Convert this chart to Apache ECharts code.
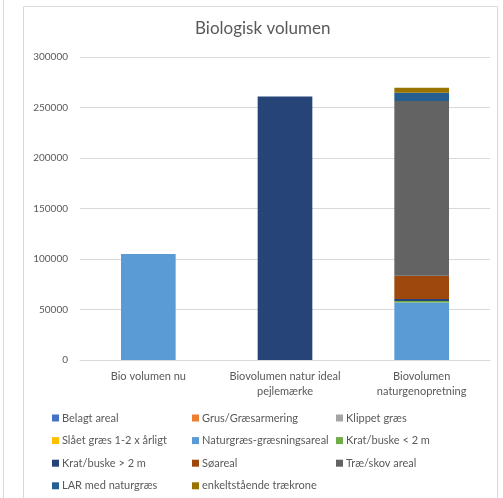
<!DOCTYPE html>
<html><head><meta charset="utf-8">
<script src="https://cdn.jsdelivr.net/npm/echarts@6/dist/echarts.min.js"></script>
<style>html,body{margin:0;padding:0;background:#fff}#c{width:503px;height:498px}</style>
</head><body><div id="c"></div>
<script>
const categories = ["Bio volumen nu", "Biovolumen natur ideal\npejlemærke", "Biovolumen\nnaturgenopretning"];
const seriesNames = ["Belagt areal","Grus/Græsarmering","Klippet græs","Slået græs 1-2 x årligt","Naturgræs-græsningsareal","Krat/buske < 2 m","Krat/buske > 2 m","Søareal","Træ/skov areal","LAR med naturgræs","enkeltstående trækrone"];
const belagt = [0, 0, 0];
const grus = [0, 0, 0];
const klippet = [0, 0, 0];
const slaaet = [0, 0, 0];
const naturgraes = [105000, 0, 57000];
const kratSmall = [0, 0, 1500];
const kratBig = [0, 261000, 2000];
const soeareal = [0, 0, 23000];
const traeSkov = [0, 0, 173000];
const lar = [0, 0, 8000];
const enkelt = [0, 0, 5000];
const yTicks = [0, 50000, 100000, 150000, 200000, 250000, 300000];
const values = [belagt, grus, klippet, slaaet, naturgraes, kratSmall, kratBig, soeareal, traeSkov, lar, enkelt];
const colors = ["#4472C4","#ED7D31","#A5A5A5","#FFC000","#5B9BD5","#70AD47","#264478","#9E480E","#636363","#255E91","#997300"];
const font = "Lato, 'Open Sans', sans-serif";
const txt = "#595959";
const chart = echarts.init(document.getElementById('c'), null, {renderer:'canvas'});
const legendBase = {orient:'vertical', top:411, itemWidth:7, itemHeight:7, itemGap:8.6, icon:'rect', padding:0,
  textStyle:{color:txt, fontSize:11, lineHeight:14, fontFamily:font, padding:[0,0,0,-2]}};
chart.setOption({
  animation:false,
  color: colors,
  title:{text:'Biologisk volumen', left:195, top:20, padding:0, textStyle:{color:txt, fontSize:17, fontWeight:'normal', fontFamily:font}},
  graphic:[
    {type:'rect', shape:{x:23.5,y:6.5,width:474,height:500}, style:{fill:'none', stroke:'#d9d9d9', lineWidth:1}},
    {type:'line', shape:{x1:3.5,y1:0,x2:3.5,y2:498}, style:{stroke:'#d9d9d9', lineWidth:1}}
  ],
  legend:[
    Object.assign({}, legendBase, {left:52, data:[seriesNames[0],seriesNames[3],seriesNames[6],seriesNames[9]]}),
    Object.assign({}, legendBase, {left:192, data:[seriesNames[1],seriesNames[4],seriesNames[7],seriesNames[10]]}),
    Object.assign({}, legendBase, {left:336, data:[seriesNames[2],seriesNames[5],seriesNames[8]]})
  ],
  grid:{left:80, right:13, top:57, bottom:138},
  xAxis:{type:'category', data:categories, axisTick:{show:false},
    axisLine:{lineStyle:{color:'#d9d9d9'}},
    axisLabel:{color:txt, fontSize:11, fontFamily:font, lineHeight:15, margin:9, interval:0}},
  yAxis:{type:'value', min:yTicks[0], max:yTicks[yTicks.length-1], interval:yTicks[1]-yTicks[0],
    axisLabel:{color:txt, fontSize:10, fontFamily:font, margin:12, formatter:v=>String(v)},
    axisLine:{show:false}, axisTick:{show:false},
    splitLine:{lineStyle:{color:'#d9d9d9'}}},
  series: seriesNames.map((n,i)=>({name:n, type:'bar', stack:'s', data:values[i], barWidth:'40%', itemStyle:{color:colors[i]}}))
});
</script></body></html>
